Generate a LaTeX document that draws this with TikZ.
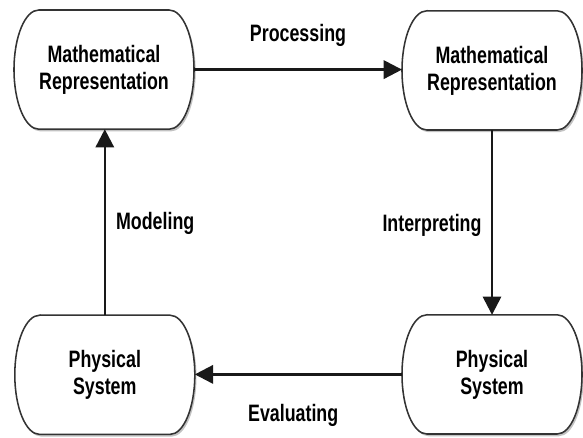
\documentclass[tikz,border=0pt]{standalone}
\usepackage{fontspec}
\setmainfont{Liberation Sans}
\newfontfamily\labelfont[FakeStretch=0.75]{Liberation Sans}
\usetikzlibrary{arrows.meta,shadows,backgrounds}

\begin{document}
\begin{tikzpicture}[
        >={Triangle[length=13pt,width=13pt]},
        font=\labelfont\bfseries\fontsize{16.9}{19.2}\selectfont,
        box/.style={
            align=center,
            minimum width=4.5cm,
            minimum height=2.98cm,
            inner sep=0pt,
            outer sep=0pt
        },
        outline/.style={
            draw=black!80,
            line width=1.1pt,
            fill=white,
            drop shadow={shadow xshift=1.2pt, shadow yshift=-1.6pt, fill=black!40, opacity=0.6}
        },
        note/.style={align=center},
        arrow/.style={->, line width=1.8pt, draw=black!90}
    ]
        \useasboundingbox (0,0) rectangle (14.575,-10.95);

        \node[box] (math1) at (2.6,-1.74) {Mathematical\\Representation};
        \node[box] (math2) at (12.3,-1.76) {Mathematical\\Representation};
        \node[box] (phys1) at (2.62,-9.37) {Physical\\System};
        \node[box] (phys2) at (12.3,-9.36) {Physical\\System};

        \node[note] (processing) at (7.45,-0.88) {Processing};
        \node[note] (interpreting) at (10.8,-5.63) {Interpreting};
        \node[note] (evaluating) at (7.33,-10.38) {Evaluating};
        \node[note] (modeling) at (3.88,-5.58) {Modeling};

        % box outlines: straight top and bottom, curved sides
        \begin{scope}[on background layer]
            \foreach \n in {math1,math2,phys1,phys2}
                \draw[outline] ([xshift=0.62cm]\n.north west) -- ([xshift=-0.62cm]\n.north east)
                    arc[start angle=90, end angle=-90, x radius=0.62cm, y radius=1.49cm]
                    -- ([xshift=0.62cm]\n.south west)
                    arc[start angle=270, end angle=90, x radius=0.62cm, y radius=1.49cm] -- cycle;
        \end{scope}

        \draw[arrow] (math1.east) -- (math2.west |- math1.east);
        \draw[arrow] (math2.south) -- (phys2.north -| math2.south);
        \draw[arrow] (phys2.west) -- (phys1.east |- phys2.west);
        \draw[arrow] (phys1.north) -- (math1.south -| phys1.north);
    \end{tikzpicture}
\end{document}
